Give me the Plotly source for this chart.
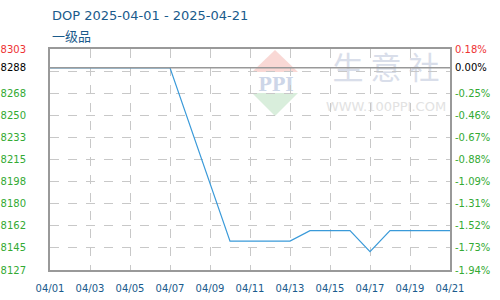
import plotly.graph_objects as go

# ---- data ----
dates = ["2025-04-01", "2025-04-02", "2025-04-03", "2025-04-04", "2025-04-05", "2025-04-06",
         "2025-04-07", "2025-04-08", "2025-04-09", "2025-04-10", "2025-04-11", "2025-04-12",
         "2025-04-13", "2025-04-14", "2025-04-15", "2025-04-16", "2025-04-17", "2025-04-18",
         "2025-04-19", "2025-04-20", "2025-04-21"]
prices = [8288, 8288, 8288, 8288, 8288, 8288,
          8288, None, None, 8150, 8150, 8150,
          8150, 8158.33, 8158.33, 8158.33, 8141.67, 8158.33,
          8158.33, 8158.33, 8158.33]
base_price = 8288

left_tick_vals = [8127, 8144.6, 8162.2, 8179.8, 8197.4, 8215, 8232.6, 8250.2, 8267.8, 8285.4, 8288, 8303]
left_tick_text = ["8127", "8145", "8162", "8180", "8198", "8215", "8233", "8250", "8268", "", "8288", "8303"]
right_tick_text = ["-1.94%", "-1.73%", "-1.52%", "-1.31%", "-1.09%", "-0.88%", "-0.67%", "-0.46%",
                   "-0.25%", "", "0.00%", "0.18%"]
x_tick_vals = ["2025-04-01", "2025-04-03", "2025-04-05", "2025-04-07", "2025-04-09", "2025-04-11",
               "2025-04-13", "2025-04-15", "2025-04-17", "2025-04-19", "2025-04-21"]
x_tick_text = ["04/01", "04/03", "04/05", "04/07", "04/09", "04/11", "04/13", "04/15", "04/17", "04/19", "04/21"]

title_text = "DOP 2025-04-01 - 2025-04-21"
subtitle_text = "一级品"

RED = "#ee3333"
GREEN = "#33aa33"
BLACK = "#000000"


def colorize(texts, vals):
    out = []
    for t, v in zip(texts, vals):
        if v == base_price:
            out.append(f"<span style='color:{BLACK}'>{t}</span>")
        elif v > base_price:
            out.append(f"<span style='color:{RED}'>{t}</span>")
        else:
            out.append(t)
    return out


ymin, ymax = left_tick_vals[0], left_tick_vals[-1]

fig = go.Figure()
fig.add_trace(go.Scatter(x=dates, y=prices, mode="lines", connectgaps=True,
                         line=dict(color="#3a9ad9", width=1.2), hoverinfo="skip",
                         showlegend=False))
# dummy trace for right axis
fig.add_trace(go.Scatter(x=[dates[0]], y=[base_price], yaxis="y2", mode="markers",
                         marker=dict(opacity=0), showlegend=False, hoverinfo="skip"))

grid = dict(showgrid=True, gridcolor="#c8c8c8", griddash="dash", gridwidth=1)
fig.update_layout(
    width=500, height=300,
    margin=dict(l=50, r=50, t=49, b=30),
    paper_bgcolor="white", plot_bgcolor="white",
    font=dict(family="DejaVu Sans", size=10),
    xaxis=dict(range=[dates[0], dates[-1]], tickvals=x_tick_vals, ticktext=x_tick_text,
               tickfont=dict(color="#1a5b8c", size=10), showline=True, linecolor="#999999",
               linewidth=2, mirror=True, ticks="", ticklabelstandoff=8, zeroline=False,
               automargin=False, **grid),
    yaxis=dict(range=[ymin, ymax], tickvals=left_tick_vals,
               ticktext=colorize(left_tick_text, left_tick_vals),
               tickfont=dict(color=GREEN, size=10), showline=True, linecolor="#999999",
               linewidth=2, mirror=True, ticks="", ticklabelstandoff=20, zeroline=False,
               automargin=False, **grid),
    yaxis2=dict(range=[ymin, ymax], overlaying="y", side="right", tickvals=left_tick_vals,
                ticktext=colorize(right_tick_text, left_tick_vals),
                tickfont=dict(color=GREEN, size=10), showgrid=False, ticks="",
                ticklabelstandoff=4, zeroline=False, showline=False, automargin=False),
)

# baseline
fig.add_shape(type="line", xref="paper", x0=0, x1=1, yref="y", y0=base_price, y1=base_price,
              line=dict(color="#999999", width=1.5), layer="above")

# watermark (under grid)
def px(x):
    return (x - 50) / 400


def py(y):
    return (270 - y) / 221


fig.add_shape(type="path", xref="paper", yref="paper", layer="below",
              path=f"M {px(275)} {py(50)} L {px(298)} {py(72)} L {px(252)} {py(72)} Z",
              fillcolor="#f9d8d5", line=dict(width=0))
fig.add_shape(type="path", xref="paper", yref="paper", layer="below",
              path=f"M {px(252)} {py(93)} L {px(298)} {py(93)} L {px(275)} {py(116)} Z",
              fillcolor="#d9eedc", line=dict(width=0))
for txt, cx, cy, size, col, fam in [
    ("<b>PPI</b>", 276, 83, 18, "#cdd6e8", "DejaVu Serif"),
    ("生 意 社", 386, 70, 31, "#d9deea", "Noto Sans CJK SC"),
    ("WWW.100PPI.COM", 386, 105, 13, "#e2e2e2", "DejaVu Sans"),
]:
    fig.add_shape(type="rect", xref="paper", yref="paper", layer="below",
                  x0=px(cx - 60), x1=px(cx + 60), y0=py(cy + 15), y1=py(cy - 15),
                  line=dict(width=0), fillcolor="rgba(0,0,0,0)",
                  label=dict(text=txt, textposition="middle center",
                             font=dict(size=size, color=col, family=fam)))

fig.add_annotation(text=title_text, xref="paper", yref="paper", x=0, y=py(15),
                   xanchor="left", yanchor="middle", showarrow=False,
                   font=dict(size=13, color="#1a5b8c", family="DejaVu Sans"))
fig.add_annotation(text=subtitle_text, xref="paper", yref="paper", x=0, y=py(35),
                   xanchor="left", yanchor="middle", showarrow=False,
                   font=dict(size=13, color="#1a5b8c", family="Noto Sans CJK SC"))

fig.write_html("out.html")
